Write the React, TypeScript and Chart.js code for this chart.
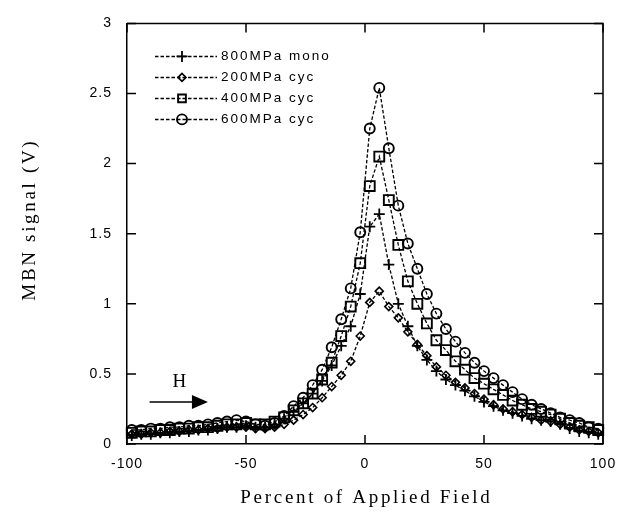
import React, { useEffect, useRef } from 'react';
import { Chart, registerables } from 'chart.js';

Chart.register(...registerables);

// ---- Data ----
const xValues = [
  -98, -94, -90, -86, -82, -78, -74, -70, -66, -62, -58, -54, -50, -46, -42, -38, -34, -30, -26, -22,
  -18, -14, -10, -6, -2, 2, 6, 10, 14, 18, 22, 26, 30, 34, 38, 42, 46, 50, 54, 58,
  62, 66, 70, 74, 78, 82, 86, 90, 94, 98,
];

const mono800 = [
  0.06, 0.07, 0.07, 0.08, 0.08, 0.09, 0.09, 0.10, 0.10, 0.11, 0.12, 0.12, 0.13, 0.12, 0.12, 0.14, 0.18, 0.23, 0.29, 0.36,
  0.45, 0.56, 0.70, 0.84, 1.07, 1.55, 1.64, 1.28, 1.00, 0.84, 0.70, 0.60, 0.52, 0.46, 0.42, 0.38, 0.34, 0.30, 0.27, 0.24,
  0.22, 0.20, 0.18, 0.17, 0.16, 0.14, 0.11, 0.09, 0.08, 0.07,
];

const cyc200 = [
  0.07, 0.07, 0.08, 0.08, 0.09, 0.09, 0.10, 0.10, 0.11, 0.11, 0.12, 0.12, 0.12, 0.11, 0.11, 0.12, 0.14, 0.17, 0.21, 0.26,
  0.33, 0.41, 0.49, 0.59, 0.77, 1.01, 1.09, 0.98, 0.90, 0.80, 0.71, 0.63, 0.55, 0.49, 0.44, 0.40, 0.36, 0.32, 0.28, 0.25,
  0.23, 0.21, 0.19, 0.17, 0.16, 0.14, 0.12, 0.10, 0.09, 0.08,
];

const cyc400 = [
  0.08, 0.09, 0.09, 0.10, 0.10, 0.11, 0.11, 0.12, 0.12, 0.13, 0.14, 0.14, 0.15, 0.14, 0.14, 0.16, 0.19, 0.24, 0.29, 0.36,
  0.46, 0.58, 0.77, 0.98, 1.29, 1.84, 2.05, 1.74, 1.42, 1.16, 1.00, 0.86, 0.74, 0.67, 0.59, 0.53, 0.47, 0.43, 0.39, 0.35,
  0.31, 0.28, 0.25, 0.23, 0.21, 0.18, 0.15, 0.13, 0.12, 0.10,
];

const cyc600 = [
  0.10, 0.10, 0.11, 0.11, 0.12, 0.12, 0.13, 0.13, 0.14, 0.15, 0.16, 0.17, 0.16, 0.14, 0.13, 0.15, 0.20, 0.27, 0.33, 0.42,
  0.53, 0.69, 0.89, 1.11, 1.51, 2.25, 2.54, 2.11, 1.70, 1.43, 1.25, 1.07, 0.93, 0.82, 0.73, 0.65, 0.58, 0.52, 0.47, 0.42,
  0.37, 0.32, 0.28, 0.25, 0.22, 0.19, 0.17, 0.15, 0.12, 0.11,
];

const seriesLabels = ['800MPa mono', '200MPa cyc', '400MPa cyc', '600MPa cyc'];
const seriesValues = [mono800, cyc200, cyc400, cyc600];

const xTicks = [-100, -50, 0, 50, 100];
const yTicks = [0, 0.5, 1, 1.5, 2, 2.5, 3];

const xTitle = 'Percent of Applied Field';
const yTitle = 'MBN signal (V)';
const fieldLabel = 'H';

// ---- Styles ----
const seriesStyles = [
  { pointStyle: 'cross', radius: 5.5, width: 1.8 },
  { pointStyle: 'rectRot', radius: 4, width: 1.6 },
  { pointStyle: 'rect', radius: 7, width: 1.9 },
  { pointStyle: 'circle', radius: 5, width: 1.9 },
];
const DASH = [3.5, 2];
const SANS = '"Liberation Sans", Arial, sans-serif';
const SERIF = '"Liberation Serif", "Times New Roman", serif';

function drawMarker(ctx: CanvasRenderingContext2D, style: string, x: number, y: number, r: number) {
  ctx.beginPath();
  if (style === 'cross') {
    ctx.moveTo(x - r, y);
    ctx.lineTo(x + r, y);
    ctx.moveTo(x, y - r);
    ctx.lineTo(x, y + r);
  } else if (style === 'rectRot') {
    ctx.moveTo(x - r, y);
    ctx.lineTo(x, y - r);
    ctx.lineTo(x + r, y);
    ctx.lineTo(x, y + r);
    ctx.closePath();
  } else if (style === 'rect') {
    const s = r * Math.SQRT1_2;
    ctx.rect(x - s, y - s, 2 * s, 2 * s);
  } else {
    ctx.arc(x, y, r, 0, Math.PI * 2);
  }
  ctx.stroke();
}

function fitText(ctx: CanvasRenderingContext2D, text: string, x: number, y: number, target: number) {
  (ctx as any).letterSpacing = '0px';
  const w = ctx.measureText(text).width;
  const s = Math.max(0, (target - w) / text.length);
  (ctx as any).letterSpacing = s + 'px';
  ctx.fillText(text, x + s / 2, y);
}

const decorPlugin = {
  id: 'decor',
  beforeDraw(chart: any) {
    (chart.ctx as any).letterSpacing = '1px';
  },
  afterDraw(chart: any) {
    const ctx: CanvasRenderingContext2D = chart.ctx;
    const { left, right, top, bottom } = chart.chartArea;
    const xs = chart.scales.x;
    const ys = chart.scales.y;
    ctx.save();
    ctx.strokeStyle = '#000';
    ctx.fillStyle = '#000';
    ctx.setLineDash([]);
    ctx.lineWidth = 1.5;
    // frame top and right
    ctx.beginPath();
    ctx.moveTo(left, top);
    ctx.lineTo(right, top);
    ctx.lineTo(right, bottom);
    ctx.stroke();
    // inward ticks
    const tl = 9;
    ctx.beginPath();
    xTicks.forEach((v) => {
      const px = xs.getPixelForValue(v);
      ctx.moveTo(px, bottom);
      ctx.lineTo(px, bottom - tl);
      ctx.moveTo(px, top);
      ctx.lineTo(px, top + tl);
    });
    yTicks.forEach((v) => {
      const py = ys.getPixelForValue(v);
      ctx.moveTo(left, py);
      ctx.lineTo(left + tl, py);
      ctx.moveTo(right, py);
      ctx.lineTo(right - tl, py);
    });
    ctx.stroke();

    // legend
    chart.data.datasets.forEach((ds: any, i: number) => {
      const st = seriesStyles[i];
      const ry = top + 33 + i * 21;
      ctx.lineWidth = 1.5;
      ctx.setLineDash(DASH);
      ctx.beginPath();
      ctx.moveTo(left + 28, ry);
      ctx.lineTo(left + 90, ry);
      ctx.stroke();
      ctx.setLineDash([]);
      ctx.lineWidth = st.width;
      drawMarker(ctx, st.pointStyle, left + 55, ry, Math.min(st.radius, 5.5));
      ctx.font = '13.5px ' + SANS;
      (ctx as any).letterSpacing = '2px';
      ctx.textAlign = 'left';
      ctx.textBaseline = 'middle';
      ctx.fillText(ds.label, left + 94, ry);
    });

    // H arrow
    ctx.font = '19px ' + SERIF;
    (ctx as any).letterSpacing = '0px';
    ctx.textAlign = 'center';
    ctx.textBaseline = 'middle';
    ctx.fillText(fieldLabel, xs.getPixelForValue(-78), ys.getPixelForValue(0.44));
    const ay = ys.getPixelForValue(0.3);
    const ax0 = xs.getPixelForValue(-90.5);
    const ax1 = xs.getPixelForValue(-66);
    ctx.lineWidth = 1.5;
    ctx.beginPath();
    ctx.moveTo(ax0, ay);
    ctx.lineTo(ax1 - 10, ay);
    ctx.stroke();
    ctx.beginPath();
    ctx.moveTo(ax1, ay);
    ctx.lineTo(ax1 - 16, ay - 7);
    ctx.lineTo(ax1 - 16, ay + 7);
    ctx.closePath();
    ctx.fill();

    // axis titles
    ctx.font = '19px ' + SERIF;
    ctx.textAlign = 'center';
    ctx.textBaseline = 'middle';
    fitText(ctx, xTitle, (left + right) / 2, 498, 252);
    ctx.save();
    ctx.translate(30, 221);
    ctx.rotate(-Math.PI / 2);
    fitText(ctx, yTitle, 0, 0, 162);
    ctx.restore();

    ctx.restore();
  },
};

export default function App() {
  const ref = useRef<HTMLCanvasElement>(null);
  useEffect(() => {
    const datasets = seriesValues.map((vals, i) => {
      const st = seriesStyles[i];
      return {
        label: seriesLabels[i],
        data: xValues.map((x, k) => ({ x, y: vals[k] })),
        showLine: true,
        borderColor: '#000',
        borderWidth: 1.3,
        borderDash: DASH,
        backgroundColor: 'rgba(0,0,0,0)',
        pointStyle: st.pointStyle,
        pointRadius: st.radius,
        pointBorderWidth: st.width,
        pointBorderColor: '#000',
        pointBackgroundColor: 'rgba(0,0,0,0)',
        tension: 0,
        clip: false as any,
      };
    });
    const chart = new Chart(ref.current!, {
      type: 'scatter',
      data: { datasets: datasets as any },
      options: {
        responsive: false,
        animation: false,
        layout: { padding: { top: 18, right: 25, left: 0, bottom: 0 } },
        plugins: {
          legend: { display: false },
          tooltip: { enabled: false },
        },
        scales: {
          x: {
            type: 'linear',
            min: -100,
            max: 100,
            afterBuildTicks: (s: any) => {
              s.ticks = xTicks.map((v) => ({ value: v }));
            },
            afterFit: (s: any) => {
              s.height = 77;
            },
            grid: { display: false, drawTicks: false },
            border: { display: true, color: '#000', width: 1.5 },
            ticks: {
              color: '#000',
              font: { family: SANS, size: 14 },
              padding: 12,
              maxRotation: 0,
              autoSkip: false,
              callback: (v: any) => String(v),
            },
          },
          y: {
            type: 'linear',
            min: 0,
            max: 3,
            afterBuildTicks: (s: any) => {
              s.ticks = yTicks.map((v) => ({ value: v }));
            },
            afterFit: (s: any) => {
              s.width = 127;
            },
            grid: { display: false, drawTicks: false },
            border: { display: true, color: '#000', width: 1.5 },
            ticks: {
              color: '#000',
              font: { family: SANS, size: 14 },
              padding: 15,
              autoSkip: false,
              callback: (v: any) => String(v),
            },
          },
        },
      },
      plugins: [decorPlugin],
    });
    return () => chart.destroy();
  }, []);
  return (
    <div style={{ position: 'fixed', left: 0, top: 0, width: 628, height: 521, background: '#fff' }}>
      <canvas ref={ref} width={628} height={521} style={{ display: 'block', width: 628, height: 521 }} />
    </div>
  );
}
